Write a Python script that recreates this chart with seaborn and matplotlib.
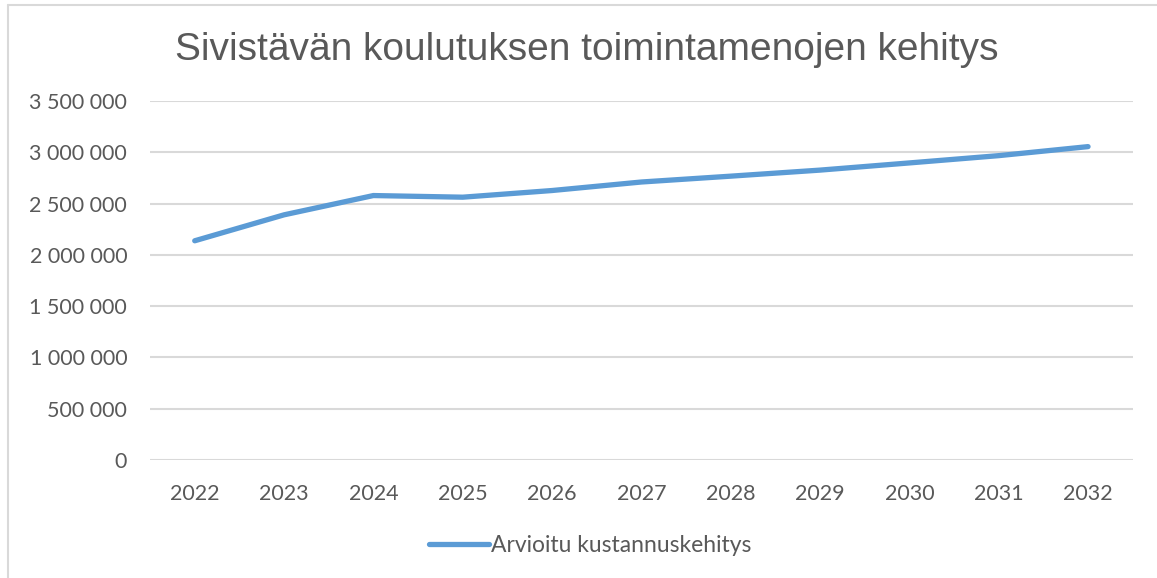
import pandas as pd
import seaborn as sns
from matplotlib import pyplot as plt
from matplotlib.lines import Line2D
from matplotlib.ticker import FuncFormatter

years = ["2022", "2023", "2024", "2025", "2026", "2027", "2028", "2029", "2030", "2031", "2032"]
costs = [2137000, 2390000, 2578000, 2562000, 2627000, 2710000, 2767000, 2826000, 2896000, 2967000, 3055000]
series_name = "Arvioitu kustannuskehitys"
title = "Sivistävän koulutuksen toimintamenojen kehitys"

df = pd.DataFrame({"year": years, "cost": costs})

sns.set_theme(style="white")
plt.rcParams["font.family"] = ["Lato", "DejaVu Sans"]

fig = plt.figure(figsize=(11.57, 5.78), dpi=100)
ax = fig.add_axes([0.1297, 0.2042, 0.8493, 0.6211])

line_color = "#5B9BD5"
txt = "#595959"

sns.lineplot(data=df, x="year", y="cost", ax=ax, color=line_color, linewidth=3.8,
             sort=False, solid_capstyle="round", legend=False)

ax.set_xlim(-0.5, len(years) - 0.5)
ax.set_ylim(0, 3500000)
ax.set_yticks(range(0, 3500001, 500000))
ax.yaxis.set_major_formatter(FuncFormatter(lambda v, p: f"{int(v):,}".replace(",", " ")))
ax.grid(axis="y", color="#D9D9D9", linewidth=1.5)
ax.set_axisbelow(True)
for s in ax.spines.values():
    s.set_visible(False)
ax.tick_params(axis="both", length=0, labelsize=15.5, colors=txt)
ax.tick_params(axis="y", pad=16.5)
ax.tick_params(axis="x", pad=17)
ax.set_xlabel("")
ax.set_ylabel("")

fig.text(0.507, 0.913, title, ha="center", va="center", fontsize=28,
         color=txt, family=["Liberation Sans", "DejaVu Sans"])

handle = Line2D([], [], color=line_color, linewidth=3.8, solid_capstyle="round")
fig.legend([handle], [series_name], loc="center", bbox_to_anchor=(0.51, 0.057),
           frameon=False, fontsize=16.5, labelcolor=txt, handlelength=2.6, handletextpad=0.1)

# chart frame (top and left edges visible)
fig.add_artist(Line2D([0.007, 1.0], [0.991, 0.991], color="#D9D9D9", linewidth=1.5))
fig.add_artist(Line2D([0.007, 0.007], [0.0, 0.991], color="#D9D9D9", linewidth=1.5))

fig.savefig("out.png", dpi=100)
